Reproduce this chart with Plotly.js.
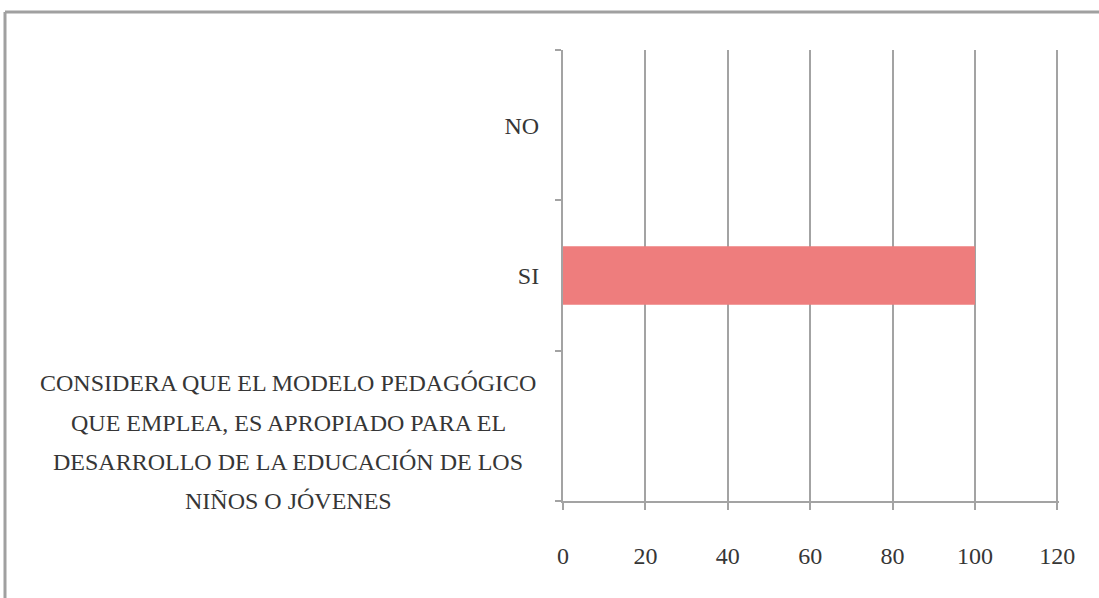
<!DOCTYPE html>
<html>
<head>
<meta charset="utf-8">
<script src="https://cdn.plot.ly/plotly-3.0.1.min.js"></script>
<style>
html,body{margin:0;padding:0;background:#fff;}
#chart{width:1099px;height:598px;}
</style>
</head>
<body>
<div id="chart"></div>
<script>
// Categories from bottom to top
var categories = [
  "CONSIDERA QUE EL MODELO PEDAGÓGICO QUE EMPLEA, ES APROPIADO PARA EL DESARROLLO DE LA EDUCACIÓN DE LOS NIÑOS O JÓVENES",
  "SI",
  "NO"
];
var values = [0, 100, 0];
var questionLines = [
  "CONSIDERA QUE EL MODELO PEDAGÓGICO",
  "QUE EMPLEA, ES APROPIADO PARA EL",
  "DESARROLLO DE LA EDUCACIÓN DE LOS",
  "NIÑOS O JÓVENES"
];
var xTickVals = [0, 20, 40, 60, 80, 100, 120];

var fontFam = "Liberation Serif, serif";
var gridCol = "#a3a3a3";
var textCol = "#363636";

// tick labels: the long question label is drawn as centred annotation lines
var tickText = categories.map(function (c, i) { return i === 0 ? "" : c; });

var trace = {
  type: "bar",
  orientation: "h",
  x: values,
  y: categories,
  marker: { color: "#ee7d7d", line: { width: 0 } },
  width: 0.39,
  hoverinfo: "x+y"
};

var lineShifts = [43, 3, -36, -75];
var annotations = questionLines.map(function (t, i) {
  return {
    xref: "paper", yref: "y",
    x: -0.5544, y: categories[0],
    xanchor: "center", yanchor: "middle",
    yshift: lineShifts[i],
    showarrow: false,
    text: t,
    font: { family: fontFam, size: 24, color: textCol }
  };
});

var layout = {
  width: 1099,
  height: 598,
  margin: { l: 563, r: 40, t: 50, b: 97 },
  paper_bgcolor: "#ffffff",
  plot_bgcolor: "#ffffff",
  showlegend: false,
  font: { family: fontFam, color: textCol },
  xaxis: {
    range: [0, 120.4],
    tickvals: xTickVals,
    ticktext: xTickVals.map(String),
    showgrid: true,
    gridcolor: gridCol,
    gridwidth: 2,
    showline: true,
    linecolor: gridCol,
    linewidth: 2,
    ticks: "outside",
    ticklen: 7,
    tickwidth: 2,
    tickcolor: gridCol,
    zeroline: false,
    ticklabelstandoff: 25,
    tickfont: { family: fontFam, size: 24, color: textCol },
    fixedrange: true
  },
  yaxis: {
    type: "category",
    categoryorder: "array",
    categoryarray: categories,
    tickvals: categories,
    ticktext: tickText,
    range: [-0.5, 2.5],
    showgrid: false,
    showline: true,
    linecolor: gridCol,
    linewidth: 2,
    ticks: "outside",
    tickson: "boundaries",
    ticklen: 6,
    tickwidth: 2,
    tickcolor: gridCol,
    zeroline: false,
    ticklabelstandoff: 17,
    tickfont: { family: fontFam, size: 24, color: textCol },
    fixedrange: true
  },
  annotations: annotations,
  shapes: [
    { type: "line", xref: "paper", yref: "paper",
      x0: -1.125, x1: -1.125, y0: -0.3, y1: 1.0843,
      line: { color: "#a0a0a0", width: 3 } },
    { type: "line", xref: "paper", yref: "paper",
      x0: -1.125, x1: 1.2, y0: 1.0843, y1: 1.0843,
      line: { color: "#a0a0a0", width: 3 } }
  ]
};

Plotly.newPlot("chart", [trace], layout, { displayModeBar: false, staticPlot: true });
</script>
</body>
</html>
